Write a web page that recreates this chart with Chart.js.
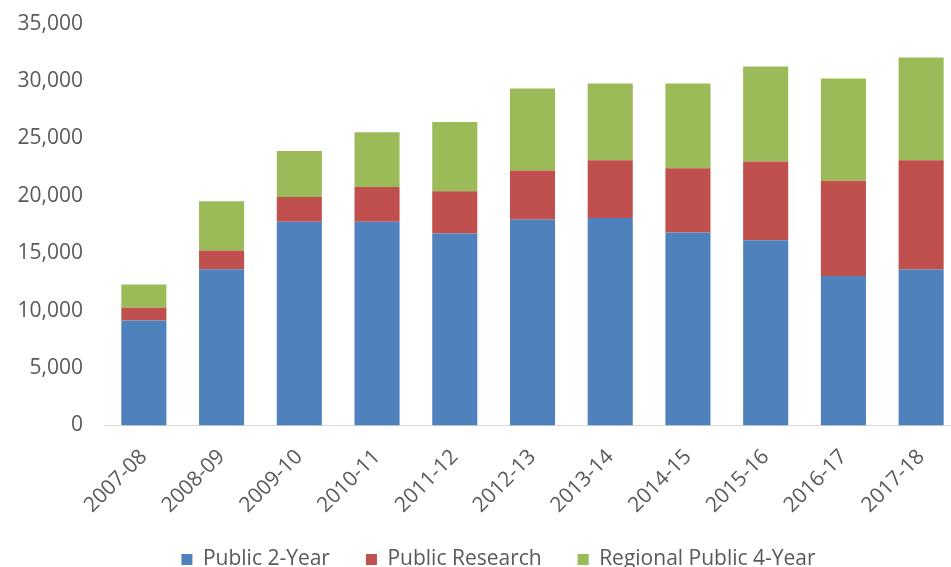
<!DOCTYPE html>
<html>
<head>
<meta charset="utf-8">
<script src="https://cdn.jsdelivr.net/npm/chart.js@4"></script>
<style>
  html, body { margin: 0; padding: 0; background: #fff; overflow: hidden; }
  #wrap { position: relative; width: 960px; height: 591px; margin-top: -11px; }
</style>
</head>
<body>
<div id="wrap"><canvas id="c"></canvas></div>
<script>
const categories = ["2007-08","2008-09","2009-10","2010-11","2011-12","2012-13","2013-14","2014-15","2015-16","2016-17","2017-18"];
const public2Year = [9150, 13600, 17750, 17740, 16730, 17950, 18060, 16810, 16140, 13010, 13590];
const publicResearch = [1100, 1650, 2150, 3020, 3680, 4260, 5050, 5600, 6850, 8300, 9520];
const regionalPublic4Year = [2040, 4270, 4000, 4780, 6030, 7140, 6670, 7370, 8270, 8910, 8940];
const yTicks = [0, 5000, 10000, 15000, 20000, 25000, 30000, 35000];

const textColor = '#595959';
const font = { family: '"Open Sans", sans-serif', size: 21 };

// shift the legend's centring box so it sits where the reference has it
const legendShift = {
  id: 'legendShift',
  afterLayout(chart) {
    if (chart.legend) { chart.legend.left = 37; }
  }
};

new Chart(document.getElementById('c'), {
  type: 'bar',
  data: {
    labels: categories,
    datasets: [
      { label: 'Public 2-Year', data: public2Year, backgroundColor: '#4F81BD' },
      { label: 'Public Research', data: publicResearch, backgroundColor: '#C0504D' },
      { label: 'Regional Public 4-Year', data: regionalPublic4Year, backgroundColor: '#9BBB59' }
    ]
  },
  plugins: [legendShift],
  options: {
    responsive: true,
    maintainAspectRatio: false,
    animation: false,
    datasets: { bar: { categoryPercentage: 1, barPercentage: 0.58 } },
    layout: { padding: { left: 0, right: 0, top: 0, bottom: 0 } },
    plugins: {
      tooltip: { enabled: false },
      legend: {
        position: 'bottom',
        labels: {
          boxWidth: 11, boxHeight: 11, padding: 36,
          color: textColor, font: font
        }
      }
    },
    scales: {
      x: {
        stacked: true,
        grid: { display: false, drawTicks: false },
        border: { display: true, color: '#d9d9d9', width: 1 },
        ticks: { color: textColor, font: font, maxRotation: 45, minRotation: 45, padding: 19, autoSkip: false },
        afterFit: (s) => { s.height = 87.5; }
      },
      y: {
        stacked: true,
        min: 0, max: 35000,
        afterBuildTicks: (s) => { s.ticks = yTicks.map(v => ({ value: v })); },
        grid: { display: false, drawTicks: false },
        border: { display: false },
        ticks: {
          color: textColor, font: font, padding: 22,
          callback: (v) => v.toLocaleString('en-US')
        },
        afterFit: (s) => { s.width = 105; }
      }
    }
  }
});
</script>
</body>
</html>
